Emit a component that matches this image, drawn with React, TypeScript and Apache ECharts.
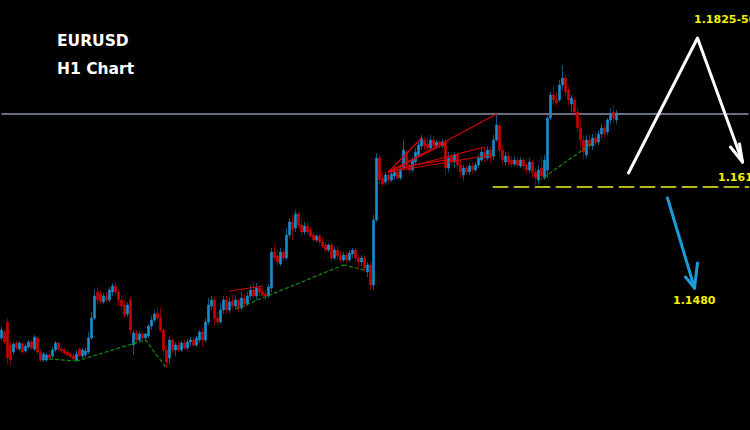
import React, { useEffect, useRef } from "react";
import * as echarts from "echarts";

// hourly slots (250 bars wide, candles occupy the first 206)
const slots: string[] = Array.from({ length: 250 }, (_, i) => String(i));

// [open, close, low, high]
const candles: number[][] = [
  [1.1462, 1.1470, 1.1460, 1.1473], [1.1468, 1.1458, 1.1456, 1.1470], [1.1478, 1.1442, 1.1435, 1.1482], [1.1455, 1.1440, 1.1434, 1.1458],
  [1.1448, 1.1456, 1.1445, 1.1458], [1.1457, 1.1452, 1.1450, 1.1459], [1.1451, 1.1457, 1.1449, 1.1459], [1.1456, 1.1448, 1.1446, 1.1458],
  [1.1449, 1.1454, 1.1447, 1.1456], [1.1453, 1.1458, 1.1451, 1.1460], [1.1458, 1.1452, 1.1450, 1.1460], [1.1451, 1.1463, 1.1449, 1.1465],
  [1.1462, 1.1448, 1.1446, 1.1464], [1.1448, 1.1440, 1.1438, 1.1450], [1.1440, 1.1446, 1.1438, 1.1448], [1.1440, 1.1445, 1.1438, 1.1447],
  [1.1445, 1.1442, 1.1440, 1.1447], [1.1444, 1.1450, 1.1442, 1.1453], [1.1450, 1.1457, 1.1448, 1.1459], [1.1457, 1.1451, 1.1449, 1.1458],
  [1.1451, 1.1449, 1.1447, 1.1454], [1.1450, 1.1447, 1.1445, 1.1452], [1.1448, 1.1445, 1.1444, 1.1450], [1.1446, 1.1443, 1.1442, 1.1449],
  [1.1444, 1.1441, 1.1439, 1.1447], [1.1440, 1.1446, 1.1438, 1.1450], [1.1451, 1.1444, 1.1443, 1.1453], [1.1444, 1.1450, 1.1442, 1.1452],
  [1.1445, 1.1449, 1.1443, 1.1452], [1.1448, 1.1462, 1.1446, 1.1468], [1.1462, 1.1482, 1.1460, 1.1488], [1.1482, 1.1504, 1.1480, 1.1510],
  [1.1508, 1.1500, 1.1495, 1.1513], [1.1506, 1.1498, 1.1496, 1.1510], [1.1498, 1.1504, 1.1496, 1.1507], [1.1503, 1.1500, 1.1498, 1.1508],
  [1.1500, 1.1510, 1.1498, 1.1513], [1.1508, 1.1514, 1.1504, 1.1517], [1.1514, 1.1508, 1.1505, 1.1519], [1.1508, 1.1500, 1.1494, 1.1511],
  [1.1500, 1.1494, 1.1490, 1.1505], [1.1495, 1.1485, 1.1482, 1.1500], [1.1486, 1.1495, 1.1483, 1.1498], [1.1500, 1.1470, 1.1465, 1.1503],
  [1.1455, 1.1467, 1.1445, 1.1470], [1.1467, 1.1460, 1.1457, 1.1470], [1.1460, 1.1466, 1.1458, 1.1469], [1.1466, 1.1462, 1.1459, 1.1468],
  [1.1462, 1.1466, 1.1459, 1.1467], [1.1464, 1.1474, 1.1462, 1.1476], [1.1474, 1.1480, 1.1470, 1.1484], [1.1480, 1.1486, 1.1478, 1.1490],
  [1.1487, 1.1482, 1.1480, 1.1493], [1.1482, 1.1470, 1.1468, 1.1493], [1.1470, 1.1450, 1.1445, 1.1472], [1.1450, 1.1438, 1.1432, 1.1455],
  [1.1442, 1.1460, 1.1435, 1.1463], [1.1460, 1.1450, 1.1446, 1.1462], [1.1450, 1.1455, 1.1444, 1.1458], [1.1455, 1.1450, 1.1448, 1.1458],
  [1.1450, 1.1457, 1.1448, 1.1459], [1.1457, 1.1452, 1.1450, 1.1460], [1.1452, 1.1458, 1.1450, 1.1461], [1.1458, 1.1460, 1.1454, 1.1463],
  [1.1460, 1.1455, 1.1453, 1.1463], [1.1455, 1.1462, 1.1453, 1.1464], [1.1460, 1.1468, 1.1457, 1.1470], [1.1468, 1.1460, 1.1454, 1.1472],
  [1.1460, 1.1478, 1.1458, 1.1482], [1.1478, 1.1495, 1.1475, 1.1502], [1.1494, 1.1500, 1.1490, 1.1504], [1.1500, 1.1482, 1.1475, 1.1503],
  [1.1482, 1.1478, 1.1474, 1.1488], [1.1478, 1.1490, 1.1476, 1.1497], [1.1490, 1.1500, 1.1486, 1.1504], [1.1500, 1.1490, 1.1486, 1.1504],
  [1.1490, 1.1498, 1.1487, 1.1503], [1.1499, 1.1494, 1.1490, 1.1505], [1.1494, 1.1500, 1.1492, 1.1505], [1.1500, 1.1492, 1.1488, 1.1502],
  [1.1492, 1.1502, 1.1490, 1.1508], [1.1502, 1.1496, 1.1492, 1.1506], [1.1496, 1.1504, 1.1494, 1.1508], [1.1504, 1.1510, 1.1500, 1.1515],
  [1.1510, 1.1504, 1.1502, 1.1518], [1.1504, 1.1512, 1.1500, 1.1517], [1.1512, 1.1508, 1.1504, 1.1514], [1.1508, 1.1505, 1.1503, 1.1512],
  [1.1506, 1.1504, 1.1500, 1.1510], [1.1504, 1.1513, 1.1502, 1.1516], [1.1512, 1.1548, 1.1508, 1.1552], [1.1548, 1.1542, 1.1540, 1.1555],
  [1.1544, 1.1538, 1.1534, 1.1550], [1.1536, 1.1548, 1.1534, 1.1552], [1.1548, 1.1542, 1.1538, 1.1550], [1.1542, 1.1565, 1.1540, 1.1572],
  [1.1565, 1.1578, 1.1562, 1.1582], [1.1578, 1.1570, 1.1560, 1.1585], [1.1572, 1.1586, 1.1568, 1.1590], [1.1586, 1.1575, 1.1572, 1.1588],
  [1.1575, 1.1568, 1.1564, 1.1582], [1.1568, 1.1574, 1.1565, 1.1578], [1.1574, 1.1568, 1.1565, 1.1578], [1.1570, 1.1564, 1.1562, 1.1573],
  [1.1565, 1.1560, 1.1558, 1.1568], [1.1560, 1.1564, 1.1558, 1.1566], [1.1564, 1.1558, 1.1555, 1.1566], [1.1558, 1.1554, 1.1552, 1.1562],
  [1.1555, 1.1550, 1.1548, 1.1558], [1.1550, 1.1555, 1.1548, 1.1557], [1.1555, 1.1542, 1.1538, 1.1558], [1.1542, 1.1550, 1.1540, 1.1553],
  [1.1550, 1.1544, 1.1540, 1.1554], [1.1544, 1.1540, 1.1537, 1.1548], [1.1540, 1.1545, 1.1538, 1.1548], [1.1545, 1.1540, 1.1537, 1.1548],
  [1.1540, 1.1547, 1.1538, 1.1550], [1.1546, 1.1550, 1.1542, 1.1552], [1.1550, 1.1542, 1.1538, 1.1552], [1.1542, 1.1538, 1.1532, 1.1545],
  [1.1538, 1.1542, 1.1534, 1.1545], [1.1542, 1.1532, 1.1528, 1.1544], [1.1528, 1.1535, 1.1523, 1.1538], [1.1535, 1.1515, 1.1510, 1.1538],
  [1.1515, 1.1580, 1.1510, 1.1585], [1.1580, 1.1642, 1.1578, 1.1647], [1.1642, 1.1620, 1.1615, 1.1645], [1.1622, 1.1616, 1.1613, 1.1628],
  [1.1618, 1.1625, 1.1615, 1.1628], [1.1625, 1.1620, 1.1617, 1.1630], [1.1620, 1.1626, 1.1618, 1.1630], [1.1624, 1.1628, 1.1620, 1.1632],
  [1.1628, 1.1622, 1.1620, 1.1632], [1.1622, 1.1630, 1.1620, 1.1634], [1.1632, 1.1650, 1.1630, 1.1660], [1.1648, 1.1635, 1.1630, 1.1650],
  [1.1635, 1.1630, 1.1626, 1.1640], [1.1630, 1.1640, 1.1628, 1.1643], [1.1638, 1.1648, 1.1635, 1.1652], [1.1645, 1.1655, 1.1642, 1.1658],
  [1.1654, 1.1662, 1.1650, 1.1665], [1.1660, 1.1654, 1.1650, 1.1663], [1.1656, 1.1652, 1.1650, 1.1663], [1.1652, 1.1660, 1.1650, 1.1665],
  [1.1660, 1.1654, 1.1651, 1.1664], [1.1654, 1.1658, 1.1652, 1.1660], [1.1658, 1.1655, 1.1652, 1.1660], [1.1654, 1.1658, 1.1652, 1.1661],
  [1.1658, 1.1632, 1.1625, 1.1660], [1.1632, 1.1642, 1.1628, 1.1648], [1.1644, 1.1638, 1.1634, 1.1648], [1.1638, 1.1645, 1.1632, 1.1648],
  [1.1645, 1.1635, 1.1630, 1.1648], [1.1635, 1.1628, 1.1622, 1.1640], [1.1625, 1.1632, 1.1620, 1.1635], [1.1632, 1.1628, 1.1625, 1.1635],
  [1.1628, 1.1634, 1.1625, 1.1637], [1.1634, 1.1630, 1.1626, 1.1637], [1.1630, 1.1635, 1.1628, 1.1638], [1.1635, 1.1642, 1.1632, 1.1645],
  [1.1640, 1.1648, 1.1638, 1.1652], [1.1648, 1.1642, 1.1638, 1.1653], [1.1642, 1.1650, 1.1640, 1.1654], [1.1650, 1.1642, 1.1637, 1.1654],
  [1.1644, 1.1660, 1.1640, 1.1665], [1.1660, 1.1675, 1.1658, 1.1686], [1.1674, 1.1650, 1.1642, 1.1678], [1.1650, 1.1640, 1.1635, 1.1655],
  [1.1638, 1.1644, 1.1635, 1.1648], [1.1644, 1.1638, 1.1634, 1.1647], [1.1640, 1.1636, 1.1633, 1.1644], [1.1636, 1.1640, 1.1634, 1.1644],
  [1.1640, 1.1635, 1.1632, 1.1643], [1.1634, 1.1640, 1.1632, 1.1643], [1.1640, 1.1634, 1.1630, 1.1642], [1.1635, 1.1630, 1.1626, 1.1638],
  [1.1630, 1.1638, 1.1627, 1.1642], [1.1638, 1.1628, 1.1622, 1.1640], [1.1628, 1.1622, 1.1613, 1.1632], [1.1620, 1.1630, 1.1615, 1.1635],
  [1.1632, 1.1624, 1.1620, 1.1643], [1.1622, 1.1640, 1.1620, 1.1645], [1.1630, 1.1682, 1.1622, 1.1685], [1.1682, 1.1705, 1.1680, 1.1708],
  [1.1705, 1.1700, 1.1695, 1.1714], [1.1700, 1.1697, 1.1694, 1.1708], [1.1700, 1.1715, 1.1698, 1.1720], [1.1715, 1.1722, 1.1710, 1.1735],
  [1.1722, 1.1708, 1.1704, 1.1725], [1.1710, 1.1700, 1.1694, 1.1714], [1.1696, 1.1702, 1.1688, 1.1705], [1.1700, 1.1688, 1.1684, 1.1703],
  [1.1688, 1.1672, 1.1668, 1.1692], [1.1672, 1.1660, 1.1652, 1.1682], [1.1660, 1.1648, 1.1640, 1.1665], [1.1645, 1.1660, 1.1642, 1.1665],
  [1.1660, 1.1654, 1.1650, 1.1665], [1.1654, 1.1662, 1.1650, 1.1666], [1.1662, 1.1657, 1.1654, 1.1668], [1.1658, 1.1666, 1.1655, 1.1670],
  [1.1666, 1.1672, 1.1662, 1.1676], [1.1672, 1.1666, 1.1663, 1.1675], [1.1668, 1.1680, 1.1665, 1.1682], [1.1680, 1.1686, 1.1676, 1.1692],
  [1.1688, 1.1682, 1.1678, 1.1695], [1.1680, 1.1687, 1.1676, 1.1690],
];

const resistanceLevel = 1.1686;
const supportLevel = 1.1613;
const supportFrom = 164;
const lastSlot = 249;

// [slotIndex, price] pairs
const redTrendLines: number[][][] = [
  [[76, 1.1509], [87, 1.1514]],
  [[129, 1.1628], [165, 1.1686]],
  [[129, 1.1628], [140, 1.1662]],
  [[129, 1.1628], [147, 1.1655]],
  [[129, 1.1628], [161, 1.1653]],
  [[129, 1.1628], [163, 1.1645]],
  [[131, 1.1632], [148, 1.1640]],
];

const greenZigzag: number[][][] = [
  [[16, 1.1441], [25, 1.1439]],
  [[25, 1.1439], [48, 1.1460]],
  [[48, 1.1460], [55, 1.1432]],
  [[78, 1.1491], [114, 1.1535]],
  [[114, 1.1535], [121, 1.1530]],
  [[181, 1.1623], [197, 1.1657]],
];

const whiteArrow: number[][][] = [
  [[209, 1.1627], [232, 1.1762], [247, 1.1638]],
  [[243, 1.1653], [247, 1.1638]],
  [[246, 1.1656], [247, 1.1638]],
];

const blueArrow: number[][][] = [
  [[222, 1.1602], [231, 1.1512]],
  [[228, 1.1523], [231, 1.1512]],
  [[232, 1.1537], [231, 1.1512]],
];

const titleLines = ["EURUSD", "H1 Chart"];
const targetLabels = ["1.1825-50", "1.1610", "1.1480"];

export default function App() {
  const ref = useRef<HTMLDivElement>(null);
  useEffect(() => {
    if (!ref.current) return;
    const chart = echarts.init(ref.current, undefined, { renderer: "svg" });
    const up = "#1a8ecc";
    const down = "#cc0000";
    const linesSeries = (segs: number[][][], color: string, width: number, type: any, z: number) => ({
      type: "lines",
      coordinateSystem: "cartesian2d",
      polyline: true,
      silent: true,
      z,
      lineStyle: { color, width, type, opacity: 1, cap: "round", join: "round" },
      data: segs.map((s) => ({ coords: s })),
    });
    const txt = (text: string, x: number, y: number, size: number, color: string) => ({
      type: "text",
      x,
      y,
      silent: true,
      style: {
        text,
        fill: color,
        font: `bold ${size}px "DejaVu Sans", sans-serif`,
        textVerticalAlign: "middle",
        textAlign: "left",
      },
    });
    chart.setOption({
      animation: false,
      backgroundColor: "#000000",
      grid: { left: 0, right: 0, top: 0, bottom: 0 },
      xAxis: {
        type: "category",
        data: slots,
        boundaryGap: true,
        show: false,
      },
      yAxis: {
        type: "value",
        min: 1.137,
        max: 1.18,
        show: false,
        splitLine: { show: false },
      },
      series: [
        {
          type: "lines",
          coordinateSystem: "cartesian2d",
          silent: true,
          z: 1,
          lineStyle: { color: "#667080", width: 2, type: "solid", opacity: 1 },
          data: [{ coords: [[0, resistanceLevel], [lastSlot, resistanceLevel]] }],
        },
        {
          type: "candlestick",
          data: candles,
          barWidth: 2,
          z: 3,
          itemStyle: {
            color: up,
            color0: down,
            borderColor: up,
            borderColor0: down,
            borderWidth: 0.6,
          },
        },
        linesSeries(
          [[[supportFrom, supportLevel], [lastSlot, supportLevel]]],
          "#b5b51f",
          2,
          [14, 7],
          2
        ),
        linesSeries(redTrendLines, "#d80000", 1.2, "solid", 4),
        linesSeries(greenZigzag, "#118c11", 1.2, [3, 3], 4),
        linesSeries(whiteArrow, "#ffffff", 3, "solid", 5),
        linesSeries(blueArrow, "#1d9bd8", 3, "solid", 5),
      ],
      graphic: [
        txt(titleLines[0], 57, 41, 15.5, "#ffffff"),
        txt(titleLines[1], 57, 68.5, 15.5, "#ffffff"),
        txt(targetLabels[0], 694, 19.5, 11, "#f2f200"),
        txt(targetLabels[1], 718, 177.5, 11, "#f2f200"),
        txt(targetLabels[2], 673, 300, 11, "#f2f200"),
      ],
    });
    return () => chart.dispose();
  }, []);
  return (
    <div
      ref={ref}
      style={{ position: "fixed", left: 0, top: 0, width: 750, height: 430, background: "#000" }}
    />
  );
}
